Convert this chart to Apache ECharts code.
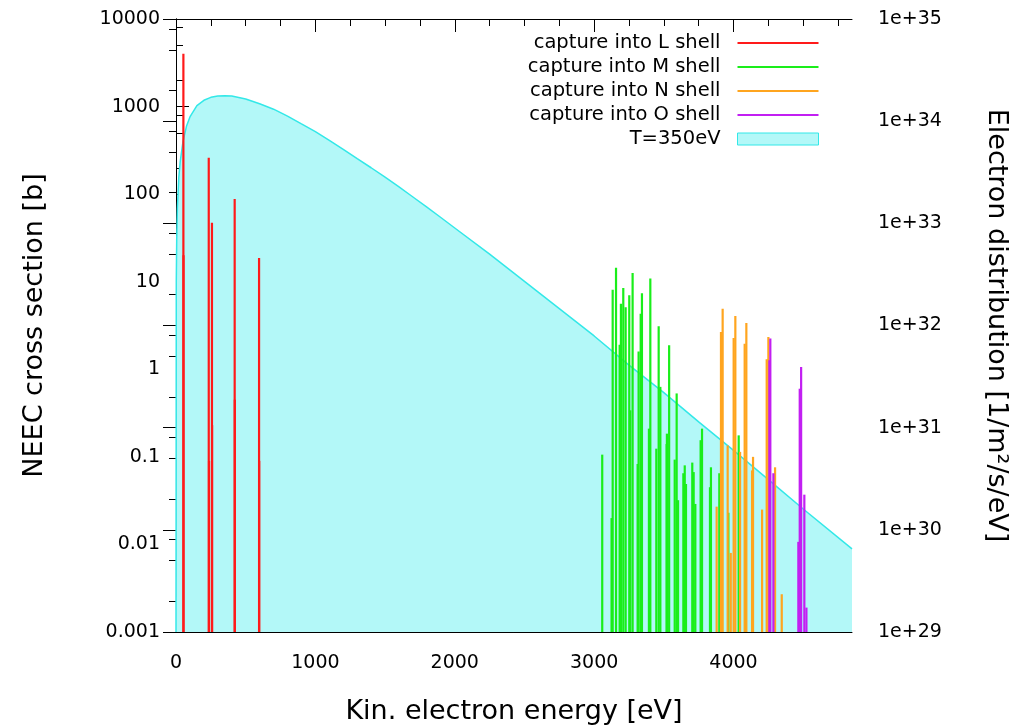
<!DOCTYPE html>
<html>
<head>
<meta charset="utf-8">
<script src="https://cdn.jsdelivr.net/npm/echarts@6/dist/echarts.min.js"></script>
<style>
    html, body {margin: 0; padding: 0; background: #fff;}
    #chart {width: 1015px; height: 728px;}
</style>
</head>
<body>
<div id="chart"></div>
<script>
const font = 'DejaVu Sans';

// tick values
const xMax = 4850;
const xMajor = [0, 1000, 2000, 3000, 4000];
const xMinor = [250, 500, 750, 1250, 1500, 1750, 2250, 2500, 2750, 3250, 3500, 3750, 4250, 4500, 4750];
const leftMajor = [0.001, 0.01, 0.1, 1, 10, 100, 1000, 10000];
const rightMajor = [1e29, 1e30, 1e31, 1e32, 1e33, 1e34, 1e35];
const minorSteps = [2, 5, 8];

// NEEC resonances [energy eV, cross section b]
const lShell = [
    [53, 4000], [54, 20], [235, 260], [237, 0.09], [258, 47], [259, 0.23],
    [421, 88], [422, 0.45], [596, 18.7], [597, 0.09],
];
const mShell = [
    [3058, 0.106], [3125, 0.02], [3133, 8.1], [3157, 14.4], [3183, 1.9], [3192, 5.6],
    [3209, 8.5], [3226, 5.1], [3252, 7.0], [3259, 0.34], [3276, 12.6], [3312, 0.083],
    [3319, 1.6], [3334, 4.3], [3343, 7.4], [3393, 0.21], [3403, 10.9], [3446, 0.124],
    [3463, 3.1], [3475, 0.63], [3520, 0.14], [3522, 0.184], [3538, 1.88], [3578, 0.093],
    [3592, 0.53], [3602, 0.032], [3640, 0.065], [3650, 0.08], [3659, 0.049], [3704, 0.086],
    [3714, 0.067], [3726, 0.029], [3764, 0.155], [3774, 0.21], [3831, 0.045], [3838, 0.076],
    [3898, 0.065], [3963, 0.023], [4037, 0.176], [4083, 0.042],
];
const nShell = [
    [3879, 0.027], [3910, 2.67], [3922, 4.9], [3958, 0.135], [3980, 0.008], [4001, 2.28],
    [4013, 4.06], [4047, 0.114], [4080, 1.96], [4092, 3.38], [4133, 0.07], [4140, 0.10],
    [4205, 0.025], [4238, 1.3], [4250, 2.34], [4298, 0.076], [4346, 0.0027],
];
const oShell = [
    [4257, 1.27], [4264, 2.24], [4286, 0.065], [4465, 0.0107], [4475, 0.6], [4485, 1.06],
    [4508, 0.037], [4523, 0.0019],
];

// electron distribution, T=350eV [1/m^2/s/eV]
const distE = [0, 2, 5, 10, 20, 30, 50, 75, 100, 150, 200, 250, 300, 350, 400, 500, 600,
    700, 800, 900, 1000, 1100, 1200, 1300, 1400, 1500, 1600, 1700, 1800, 1900, 2000, 2250, 2500,
    2750, 3000, 3250, 3500, 3750, 4000, 4250, 4500, 4850];
const distFlux = [1e29, 2.7e32, 6.8e32, 1.4e33, 2.8e33, 4.0e33, 6.3e33, 8.9e33, 1.1e34,
    1.42e34, 1.6e34, 1.71e34, 1.76e34, 1.77e34, 1.76e34, 1.65e34, 1.48e34, 1.31e34, 1.12e34,
    9.4e33, 7.9e33, 6.5e33, 5.3e33, 4.3e33, 3.5e33, 2.83e33, 2.27e33, 1.81e33, 1.44e33, 1.14e33,
    9.0e32, 5.0e32, 2.7e32, 1.46e32, 7.9e31, 4.1e31, 2.2e31, 1.14e31, 6.0e30, 3.1e30, 1.6e30, 6.5e29];

const colors = {
    L: '#ff1a1a',
    M: '#1aee1a',
    N: '#ffa51f',
    O: '#c21ff2',
    fill: '#b3f8f8',
    edge: '#33e8e8',
};

const minorOf = majors => majors.slice(0, -1).flatMap(v => minorSteps.map(s => v * s));
const leftMinor = minorOf(leftMajor);
const rightMinor = minorOf(rightMajor);

const chart = echarts.init(document.getElementById('chart'), null, {renderer: 'canvas'});

const black = {color: '#000', width: 1};
const labelStyle = {color: '#000', fontFamily: font, fontSize: 19};
const titleStyle = {color: '#000', fontFamily: font, fontSize: 27};

function xAxis(position, ticks, len, opts = {}) {
    return {
        type: 'value',
        position,
        min: 0,
        max: xMax,
        axisLine: {show: len > 10, lineStyle: black},
        axisTick: {inside: true, length: len, customValues: ticks, lineStyle: black},
        axisLabel: {show: false},
        splitLine: {show: false},
        ...opts,
    };
}

function yAxis(position, min, max, ticks, len, opts = {}) {
    return {
        type: 'log',
        position,
        min,
        max,
        axisLine: {show: len > 10, lineStyle: black},
        axisTick: {inside: true, length: len, customValues: ticks, lineStyle: black},
        axisLabel: {show: false},
        splitLine: {show: false},
        ...opts,
    };
}

function impulse(params, api) {
    const x = api.value(0);
    const top = api.coord([x, api.value(1)]);
    const base = api.coord([x, leftMajor[0]]);
    return {
        type: 'line',
        shape: {x1: top[0], y1: top[1], x2: base[0], y2: base[1]},
        style: {stroke: api.visual('color'), lineWidth: 2.2},
    };
}

function shellSeries(name, data, color) {
    return {
        name,
        type: 'custom',
        xAxisIndex: 0,
        yAxisIndex: 0,
        renderItem: impulse,
        itemStyle: {color},
        data,
        z: 3,
        clip: true,
    };
}

const lineIcon = 'path://M0,0M0,12M0,5L81,5L81,7L0,7Z';

chart.setOption({
    animation: false,
    backgroundColor: '#fff',
    grid: {left: 176, top: 19, right: 163, bottom: 96, outerBoundsMode: 'none'},
    legend: {
        right: 196,
        top: 33,
        orient: 'vertical',
        align: 'right',
        padding: 0,
        itemGap: 4,
        itemWidth: 81,
        itemHeight: 12,
        selectedMode: false,
        formatter: name => `{t|${name}}`,
        textStyle: {
            rich: {
                t: {
                    width: 190, align: 'right', fontFamily: font, fontSize: 19.5,
                    color: '#000', lineHeight: 20, padding: [0, 12, 0, 0],
                },
            },
        },
        data: [
            {name: 'capture into L shell', icon: lineIcon, itemStyle: {color: colors.L}},
            {name: 'capture into M shell', icon: lineIcon, itemStyle: {color: colors.M}},
            {name: 'capture into N shell', icon: lineIcon, itemStyle: {color: colors.N}},
            {name: 'capture into O shell', icon: lineIcon, itemStyle: {color: colors.O}},
            {name: 'T=350eV', icon: 'rect',
                itemStyle: {color: colors.fill, borderColor: colors.edge, borderWidth: 1}},
        ],
    },
    xAxis: [
        xAxis('bottom', xMajor, 13, {
            axisLabel: {
                show: true, customValues: xMajor, margin: 22, ...labelStyle,
                formatter: v => String(v),
            },
            name: 'Kin. electron energy [eV]',
            nameLocation: 'middle',
            nameGap: 66,
            nameTextStyle: titleStyle,
        }),
        xAxis('bottom', xMinor, 7),
        xAxis('top', xMajor, 13),
        xAxis('top', xMinor, 7),
    ],
    yAxis: [
        yAxis('left', 0.001, 10000, leftMajor, 13, {
            axisLabel: {
                show: true, customValues: leftMajor, margin: 16, ...labelStyle,
                formatter: v => {
                    const e = Math.round(Math.log10(v));
                    return e < 0 ? Math.pow(10, e).toFixed(-e) : String(Math.round(v));
                },
            },
            name: 'NEEC cross section [b]',
            nameLocation: 'middle',
            nameGap: 128,
            nameTextStyle: titleStyle,
        }),
        yAxis('left', 0.001, 10000, leftMinor, 7),
        yAxis('right', 1e29, 1e35, rightMajor, 13, {
            axisLabel: {
                show: true, customValues: rightMajor, margin: 26, ...labelStyle,
                formatter: v => '1e+' + Math.round(Math.log10(v)),
            },
            name: 'Electron distribution [1/m²/s/eV]',
            nameLocation: 'middle',
            nameRotate: -90,
            nameGap: 131,
            nameTextStyle: titleStyle,
        }),
        yAxis('right', 1e29, 1e35, rightMinor, 7),
    ],
    series: [
        {
            name: 'T=350eV',
            type: 'line',
            xAxisIndex: 0,
            yAxisIndex: 2,
            data: distE.map((e, i) => [e, distFlux[i]]),
            showSymbol: false,
            symbol: 'none',
            lineStyle: {color: colors.edge, width: 1.5},
            itemStyle: {color: colors.edge},
            areaStyle: {color: colors.fill, opacity: 1, origin: 'start'},
            z: 1,
        },
        shellSeries('capture into L shell', lShell, colors.L),
        shellSeries('capture into M shell', mShell, colors.M),
        shellSeries('capture into N shell', nShell, colors.N),
        shellSeries('capture into O shell', oShell, colors.O),
    ],
});
</script>
</body>
</html>
